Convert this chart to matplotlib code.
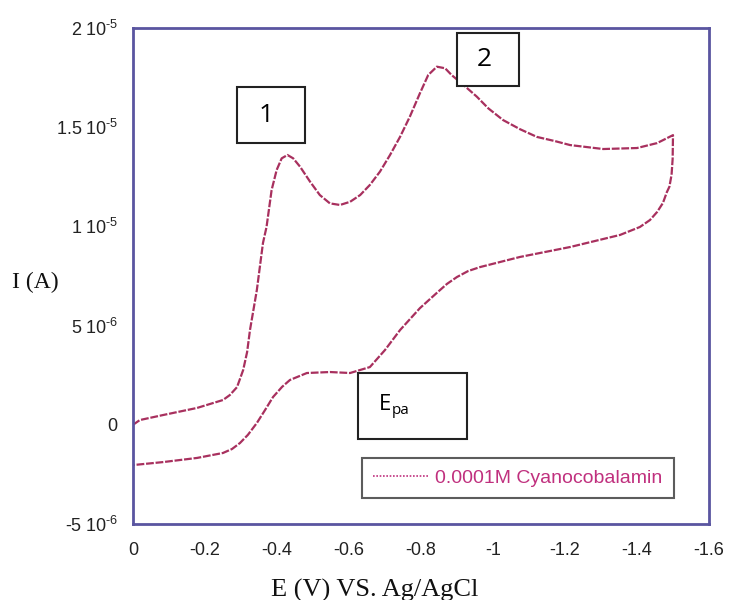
import matplotlib
matplotlib.use("Agg")
import matplotlib.pyplot as plt
from matplotlib.patches import Rectangle
from matplotlib.ticker import FixedLocator, FixedFormatter

plt.rcParams['mathtext.fontset'] = 'custom'
plt.rcParams['mathtext.rm'] = 'Liberation Sans'
plt.rcParams['mathtext.it'] = 'Liberation Sans:italic'
plt.rcParams['mathtext.bf'] = 'Liberation Sans:bold'

# ---- data (E in V, I in microamps -> scaled to A) ----
E_forward = [0.0, -0.019, -0.083, -0.178, -0.25, -0.269, -0.289, -0.306, -0.317, -0.325,
             -0.344, -0.361, -0.371, -0.385, -0.399, -0.413, -0.429, -0.445, -0.464, -0.492,
             -0.519, -0.547, -0.575, -0.603, -0.631, -0.658, -0.686, -0.714, -0.742, -0.769,
             -0.797, -0.820, -0.844, -0.867, -0.885, -0.918, -0.955, -0.987, -1.028, -1.075,
             -1.122, -1.172, -1.214, -1.306, -1.40, -1.456, -1.50]
I_forward_uA = [0.0, 0.24, 0.49, 0.85, 1.25, 1.50, 1.90, 2.76, 3.67, 4.78,
                6.79, 9.16, 9.98, 11.83, 12.84, 13.43, 13.60, 13.43, 13.01, 12.25,
                11.58, 11.16, 11.08, 11.24, 11.58, 12.09, 12.76, 13.60, 14.52, 15.53,
                16.71, 17.63, 18.05, 17.97, 17.63, 17.13, 16.54, 15.95, 15.36, 14.90,
                14.51, 14.30, 14.10, 13.90, 13.95, 14.20, 14.60]

E_reverse = [-1.50, -1.499, -1.496, -1.49, -1.483, -1.472, -1.456, -1.436, -1.408, -1.353,
             -1.214, -1.075, -0.964, -0.931, -0.90, -0.872, -0.844, -0.797, -0.742, -0.70,
             -0.658, -0.603, -0.547, -0.483, -0.436, -0.414, -0.389, -0.367, -0.344, -0.319,
             -0.297, -0.275, -0.25, -0.178, -0.083, 0.0]
I_reverse_uA = [14.6, 13.4, 12.6, 12.0, 11.73, 11.18, 10.73, 10.32, 9.97, 9.57,
                8.96, 8.46, 7.95, 7.75, 7.45, 7.10, 6.65, 5.88, 4.78, 3.77,
                2.91, 2.61, 2.66, 2.61, 2.26, 1.91, 1.40, 0.75, 0.09, -0.51,
                -0.92, -1.22, -1.42, -1.67, -1.88, -2.03]

series_label = "0.0001M Cyanocobalamin"

x_ticks = [0, -0.2, -0.4, -0.6, -0.8, -1.0, -1.2, -1.4, -1.6]
x_tick_labels = ["0", "-0.2", "-0.4", "-0.6", "-0.8", "-1", "-1.2", "-1.4", "-1.6"]
y_ticks = [-5e-6, 0, 5e-6, 1e-5, 1.5e-5, 2e-5]
y_tick_labels = [r"$\text{-}5\;10^{\text{-}6}$", "0", r"$5\;10^{\text{-}6}$",
                 r"$1\;10^{\text{-}5}$", r"$1.5\;10^{\text{-}5}$", r"$2\;10^{\text{-}5}$"]

annotations = ["1", "2"]

# ---- figure ----
W, H = 729, 600
fig = plt.figure(figsize=(W / 100, H / 100), dpi=100)

def fx(px):
    return px / W

def fy(py):
    return 1 - py / H

ax = fig.add_axes([fx(133), fy(524), fx(709) - fx(133), fy(28) - fy(524)])

curve_color = "#a8305e"
E_all = E_forward + E_reverse[1:]
I_all = [v * 1e-6 for v in I_forward_uA + I_reverse_uA[1:]]
line, = ax.plot(E_all, I_all, color=curve_color, lw=1.6, ls=(0, (3.5, 0.8)),
                label=series_label)

ax.set_xlim(0, -1.6)
ax.set_ylim(-5e-6, 2e-5)
ax.xaxis.set_major_locator(FixedLocator(x_ticks))
ax.xaxis.set_major_formatter(FixedFormatter(x_tick_labels))
ax.yaxis.set_major_locator(FixedLocator(y_ticks))
ax.yaxis.set_major_formatter(FixedFormatter(y_tick_labels))
ax.tick_params(axis='both', length=0, labelsize=13, colors="#222222")
ax.tick_params(axis='x', pad=13)
ax.tick_params(axis='y', pad=11)
for lab in ax.get_xticklabels() + ax.get_yticklabels():
    lab.set_fontfamily("Liberation Sans")

for sp in ax.spines.values():
    sp.set_color("#5a55a0")
    sp.set_linewidth(2)

# axis labels
fig.text(fx(375), fy(590), "E (V) VS. Ag/AgCl", family="Liberation Serif",
         fontsize=19, ha="center", va="center", color="#111111")
fig.text(fx(12), fy(282), "I (A)", family="Liberation Serif",
         fontsize=17, ha="left", va="center", color="#111111")

# legend
leg = ax.legend(loc="center", bbox_to_anchor=(fx(518), fy(478)),
                bbox_transform=fig.transFigure, frameon=True, fancybox=False,
                prop={"family": "Liberation Sans", "size": 14},
                handlelength=2.8, handletextpad=0.4, borderpad=0.6,
                labelcolor="#c0307e")
leg.get_frame().set_edgecolor("#333333")
leg.get_frame().set_linewidth(1.5)
for lh in leg.get_lines():
    lh.set_linestyle((0, (1, 1)))
    lh.set_linewidth(1.2)
    lh.set_color("#c0307e")

# annotation boxes
def box(x0, y0, x1, y1):
    r = Rectangle((fx(x0), fy(y1)), fx(x1) - fx(x0), fy(y0) - fy(y1),
                  transform=fig.transFigure, fill=True, facecolor="white",
                  edgecolor="#222222", lw=1.5, zorder=5)
    fig.add_artist(r)

box(237, 87, 305, 143)
fig.text(fx(266), fy(116), annotations[0], family="Open Sans", fontsize=19,
         ha="center", va="center", zorder=6)
box(457, 33, 519, 86)
fig.text(fx(484), fy(60), annotations[1], family="Open Sans", fontsize=19,
         ha="center", va="center", zorder=6)
box(358, 373, 467, 439)
fig.text(fx(379), fy(404), "E", family="Open Sans", fontsize=16,
         ha="left", va="center", zorder=6)
fig.text(fx(392), fy(410), "pa", family="Open Sans", fontsize=11,
         ha="left", va="center", zorder=6)

fig.savefig("out.png", dpi=100, facecolor="white")
